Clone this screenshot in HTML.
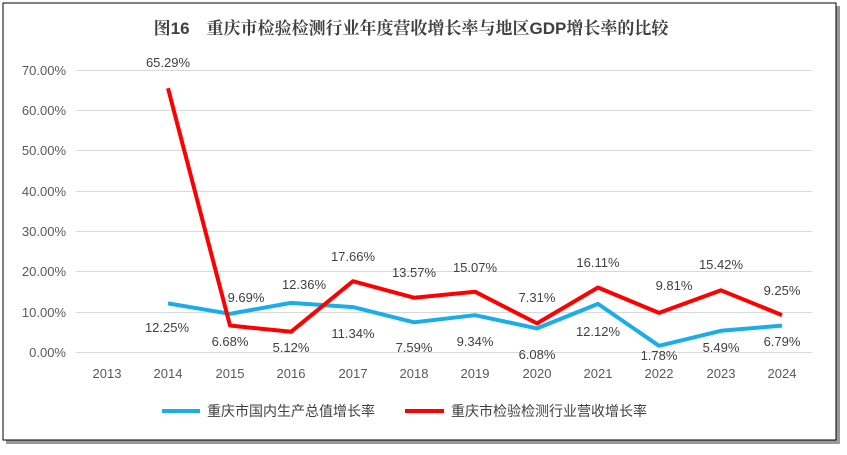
<!DOCTYPE html>
<html><head><meta charset="utf-8"><style>
body{margin:0;background:#fff;width:847px;height:450px;overflow:hidden}
</style></head><body>
<svg width="847" height="450" xmlns="http://www.w3.org/2000/svg" font-family="Liberation Sans, Noto Sans CJK SC, sans-serif">
<rect x="6" y="6" width="834" height="438" fill="#999"/>
<rect x="3" y="3" width="833" height="437" fill="#fff" stroke="#000" stroke-width="1"/>
<text x="411" y="34" text-anchor="middle" font-size="17" font-weight="bold" fill="#404040" font-family="Liberation Sans, Noto Serif CJK SC, serif">图16　重庆市检验检测行业年度营收增长率与地区GDP增长率的比较</text>
<g stroke="#d9d9d9" stroke-width="1">
<line x1="76" x2="812" y1="70.5" y2="70.5"/><line x1="76" x2="812" y1="110.5" y2="110.5"/>
<line x1="76" x2="812" y1="150.5" y2="150.5"/><line x1="76" x2="812" y1="191.5" y2="191.5"/>
<line x1="76" x2="812" y1="231.5" y2="231.5"/><line x1="76" x2="812" y1="271.5" y2="271.5"/>
<line x1="76" x2="812" y1="312.5" y2="312.5"/><line x1="76" x2="812" y1="352.5" y2="352.5"/>
</g>
<g font-size="13" fill="#595959" text-anchor="end">
<text x="66" y="75">70.00%</text><text x="66" y="115">60.00%</text><text x="66" y="155">50.00%</text>
<text x="66" y="196">40.00%</text><text x="66" y="236">30.00%</text><text x="66" y="276">20.00%</text>
<text x="66" y="317">10.00%</text><text x="66" y="357">0.00%</text>
</g>
<g font-size="13" fill="#595959" text-anchor="middle">
<text x="107" y="378">2013</text><text x="168" y="378">2014</text><text x="230" y="378">2015</text>
<text x="291" y="378">2016</text><text x="353" y="378">2017</text><text x="414" y="378">2018</text>
<text x="475" y="378">2019</text><text x="537" y="378">2020</text><text x="598" y="378">2021</text>
<text x="659" y="378">2022</text><text x="721" y="378">2023</text><text x="782" y="378">2024</text>
</g>
<polyline fill="none" stroke="#1aadea" stroke-width="4" stroke-linejoin="round" points="168,303.4 230,313.8 291,302.9 353,307.1 414,322.3 475,315.2 537,328.4 598,303.9 659,345.8 721,330.8 782,325.6"/>
<polyline fill="none" stroke="#ff0000" stroke-width="4" stroke-linejoin="round" points="168,88.3 230,325.5 291,331.8 353,281.2 414,297.7 475,291.7 537,323.4 598,287.5 659,312.9 721,290.3 782,315.1"/>
<g font-size="13" fill="#404040" text-anchor="middle">
<text x="168" y="67">65.29%</text>
<text x="167" y="332">12.25%</text><text x="246" y="302">9.69%</text><text x="230" y="346">6.68%</text>
<text x="304" y="289">12.36%</text><text x="291" y="352">5.12%</text><text x="353" y="261">17.66%</text>
<text x="353" y="338">11.34%</text><text x="414" y="277">13.57%</text><text x="414" y="352">7.59%</text>
<text x="475" y="272">15.07%</text><text x="475" y="346">9.34%</text><text x="537" y="302">7.31%</text>
<text x="537" y="359">6.08%</text><text x="598" y="267">16.11%</text><text x="598" y="336">12.12%</text>
<text x="674" y="290">9.81%</text><text x="659" y="360">1.78%</text><text x="721" y="269">15.42%</text>
<text x="721" y="352">5.49%</text><text x="782" y="295">9.25%</text><text x="782" y="346">6.79%</text>
</g>
<line x1="162" x2="200" y1="411" y2="411" stroke="#1aadea" stroke-width="4"/>
<text x="207" y="416" font-size="14" fill="#404040">重庆市国内生产总值增长率</text>
<line x1="405" x2="444" y1="411" y2="411" stroke="#ff0000" stroke-width="4"/>
<text x="451" y="416" font-size="14" fill="#404040">重庆市检验检测行业营收增长率</text>
</svg>
</body></html>
